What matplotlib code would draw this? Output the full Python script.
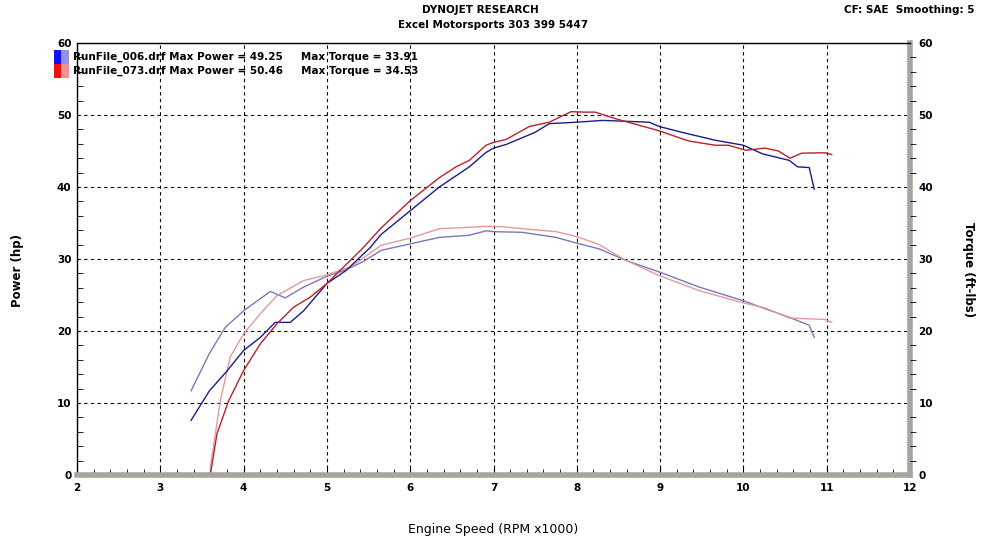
import matplotlib
matplotlib.use('Agg')
import matplotlib.pyplot as plt
from matplotlib.patches import Rectangle

# run 006 (blue)
rpm_hp_006 = [3.37, 3.59, 3.79, 4.0, 4.2, 4.38, 4.56, 4.72, 5.0, 5.23, 5.52, 5.65, 6.0, 6.35,
              6.71, 6.91, 7.0, 7.15, 7.5, 7.67, 8.0, 8.31, 8.87, 8.99, 9.26, 9.66, 10.0,
              10.23, 10.55, 10.65, 10.79, 10.85]
hp_006 = [7.6, 11.7, 14.3, 17.3, 19.1, 21.2, 21.2, 22.8, 26.6, 28.4, 31.6, 33.4, 36.7, 40.0,
          42.8, 44.8, 45.4, 45.9, 47.6, 48.8, 49.0, 49.25, 49.0, 48.4, 47.6, 46.5, 45.8,
          44.6, 43.7, 42.8, 42.7, 39.7]
rpm_tq_006 = [3.37, 3.59, 3.78, 4.0, 4.32, 4.5, 4.72, 5.0, 5.23, 5.43, 5.65, 6.0, 6.35, 6.71,
              6.91, 7.0, 7.35, 7.75, 8.0, 8.27, 8.59, 8.99, 9.47, 10.0, 10.26, 10.55, 10.79, 10.85]
tq_006 = [11.7, 16.9, 20.5, 22.8, 25.5, 24.6, 26.1, 27.6, 28.5, 29.6, 31.2, 32.1, 33.0, 33.3,
          33.91, 33.8, 33.7, 33.0, 32.2, 31.4, 29.8, 28.2, 26.1, 24.2, 23.1, 21.9, 20.8, 19.1]

# run 073 (red)
rpm_hp_073 = [3.6, 3.68, 3.82, 4.0, 4.2, 4.4, 4.6, 4.8, 5.0, 5.43, 5.65, 6.0, 6.35, 6.55, 6.71,
              6.91, 7.0, 7.15, 7.43, 7.67, 7.93, 8.1, 8.22, 8.46, 8.99, 9.34, 9.66, 9.82,
              10.03, 10.26, 10.42, 10.56, 10.7, 10.98, 11.06]
hp_073 = [0, 5.7, 10.3, 14.5, 18.2, 21.0, 23.3, 24.7, 26.6, 31.5, 34.3, 38.1, 41.3, 42.8, 43.7,
          45.8, 46.2, 46.6, 48.4, 49.0, 50.46, 50.4, 50.4, 49.5, 47.8, 46.4, 45.8, 45.8,
          45.1, 45.4, 45.0, 44.0, 44.7, 44.75, 44.5]
rpm_tq_073 = [3.6, 3.72, 3.84, 4.0, 4.2, 4.4, 4.72, 5.0, 5.3, 5.65, 6.0, 6.35, 6.71, 6.87, 7.1,
              7.35, 7.75, 8.0, 8.27, 8.59, 8.99, 9.47, 10.0, 10.26, 10.55, 10.98, 11.06]
tq_073 = [1.0, 10.3, 16.4, 19.6, 22.4, 24.9, 27.0, 27.8, 29.0, 31.9, 32.9, 34.2, 34.4, 34.53,
          34.5, 34.2, 33.8, 33.1, 32.0, 29.8, 27.7, 25.6, 23.9, 23.2, 21.8, 21.6, 21.2]

legend_lines = ['RunFile_006.drf Max Power = 49.25     Max Torque = 33.91',
                'RunFile_073.drf Max Power = 50.46     Max Torque = 34.53']

fig = plt.figure(figsize=(9.91, 5.47), dpi=100)
ax = fig.add_axes([77/991, 1-475/547, 833/991, 432/547])

ax.plot(rpm_tq_006, tq_006, color='#7a78b8', lw=1)
ax.plot(rpm_tq_073, tq_073, color='#e29a9a', lw=1)
ax.plot(rpm_hp_006, hp_006, color='#1c1c86', lw=1)
ax.plot(rpm_hp_073, hp_073, color='#b8222a', lw=1)

ax.set_xlim(2, 12)
ax.set_ylim(0, 60)
ax.set_xticks(range(2, 13))
ax.set_xticks([2 + 0.2*i for i in range(51)], minor=True)
ax.set_yticks(range(0, 61, 10))
ax.set_yticks(range(0, 61, 2), minor=True)
ax.grid(True, which='major', color='black', linestyle=(0, (3, 3)), lw=0.8)

for s in ['top', 'left']:
    ax.spines[s].set_color('black')
    ax.spines[s].set_linewidth(1)
for s in ['bottom', 'right']:
    ax.spines[s].set_color('#a8a59c')
    ax.spines[s].set_linewidth(4)

ax.tick_params(axis='both', which='both', direction='in', labelsize=7.5, colors='black')
ax.tick_params(axis='x', which='major', length=5, pad=6)
ax.tick_params(axis='x', which='minor', length=4)
ax.tick_params(axis='y', which='major', length=0, pad=4)
ax.tick_params(axis='y', which='minor', length=4)
for t in ax.get_xticklabels() + ax.get_yticklabels():
    t.set_fontweight('bold')

ax2 = ax.twinx()
ax2.set_ylim(0, 60)
ax2.set_yticks(range(0, 61, 10))
ax2.set_yticks(range(0, 61, 2), minor=True)
for s in ax2.spines.values():
    s.set_visible(False)
ax2.tick_params(axis='y', which='both', direction='out', length=4, labelsize=7.5, pad=3)
ax2.tick_params(axis='y', which='major', length=0, pad=6)
for t in ax2.get_yticklabels():
    t.set_fontweight('bold')

fig.text(493/991, 1-530/547, 'Engine Speed (RPM x1000)', ha='center', va='center', fontsize=9)
fig.text(18/991, 1-270/547, 'Power (hp)', ha='center', va='center', rotation=90,
         fontsize=8.5, fontweight='bold')
fig.text(968/991, 1-270/547, 'Torque (ft-lbs)', ha='center', va='center', rotation=-90,
         fontsize=8.5, fontweight='bold')

fig.text(480/991, 1-10/547, 'DYNOJET RESEARCH', ha='center', va='center', fontsize=7.5, fontweight='bold')
fig.text(493/991, 1-25/547, 'Excel Motorsports 303 399 5447', ha='center', va='center', fontsize=7.5, fontweight='bold')
fig.text(975/991, 1-10/547, 'CF: SAE  Smoothing: 5', ha='right', va='center', fontsize=7.5, fontweight='bold')

sq_cols = [('#1010f0', '#9090f0'), ('#f01010', '#f09090')]
for i, txt in enumerate(legend_lines):
    y0 = 1 - (64 + i*14)/547
    fig.patches.append(Rectangle((54/991, y0), 7/991, 14/547, transform=fig.transFigure,
                                 facecolor=sq_cols[i][0], edgecolor='none'))
    fig.patches.append(Rectangle((61/991, y0), 8/991, 14/547, transform=fig.transFigure,
                                 facecolor=sq_cols[i][1], edgecolor='none'))
    fig.text(73/991, y0 + 7/547, txt, ha='left', va='center', fontsize=7.5, fontweight='bold')

fig.savefig('out.png', dpi=100)
